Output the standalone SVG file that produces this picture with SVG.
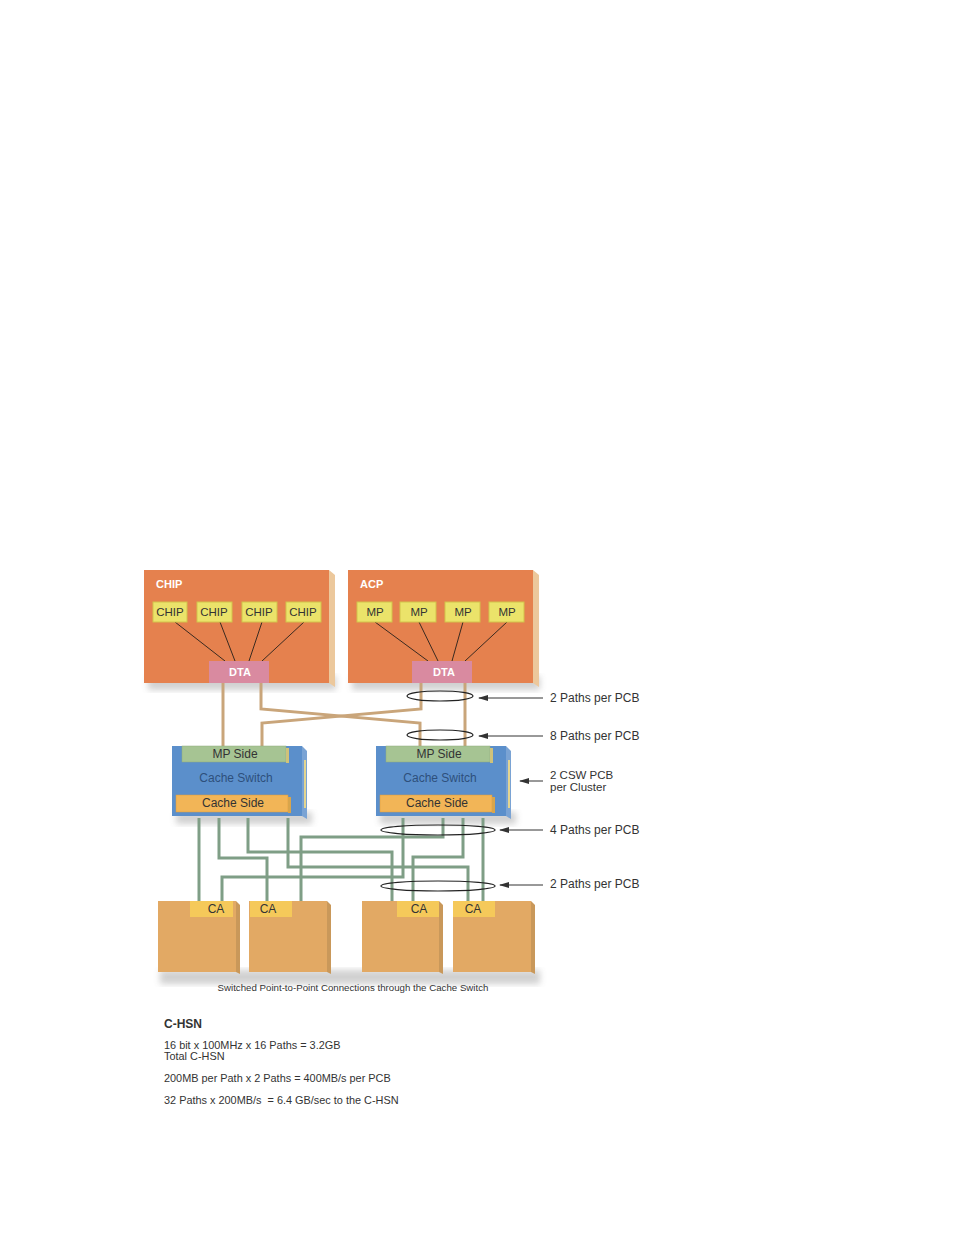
<svg xmlns="http://www.w3.org/2000/svg" width="954" height="1235" viewBox="0 0 954 1235">
<defs>
<style>
text{font-family:"Liberation Sans",Arial,sans-serif;fill:#333}
.title{font-size:11px;font-weight:bold;fill:#fff}
.chip{fill:#ebe36a;stroke:#d2c34a;stroke-width:1}
.ct{font-size:11.5px;text-anchor:middle}
.st{font-size:12px;text-anchor:middle}
.dta{fill:#d98aa0}
.dt{font-size:11px;font-weight:bold;fill:#fff;text-anchor:middle}
.big{fill:#e5814e}
.edge{fill:#ecc89c}
.wire{stroke:#3a2a20;stroke-width:1;fill:none}
.tan{stroke:#c9a57a;stroke-width:3;fill:none}
.grn{stroke:#7f9e86;stroke-width:3;fill:none}
.sw{fill:#5b8fcb}
.swe{fill:#7aa3d4}
.mp{fill:#a6c493;stroke:#8fab7d;stroke-width:0.5}
.cs{fill:#f2b557;stroke:#d99a3c;stroke-width:0.5}
.ca{fill:#e2a964}
.cal{fill:#f5c95a}
.ell{fill:none;stroke:#222;stroke-width:1.2}
.arr{stroke:#333;stroke-width:1;fill:none;marker-end:url(#ah)}
.lbl{font-size:12px}
.lbl2{font-size:11.5px}
.small{font-size:10.9px}
.shadow{filter:url(#blur);fill:#999;opacity:0.45}
</style>
<marker id="ah" markerWidth="10" markerHeight="6" refX="9" refY="3" orient="auto" markerUnits="userSpaceOnUse">
<path d="M0,0 L10,3 L0,6 Z" fill="#333"/>
</marker>
<filter id="blur" x="-20%" y="-20%" width="140%" height="140%"><feGaussianBlur stdDeviation="3"/></filter>
</defs>

<rect x="0" y="0" width="954" height="1235" fill="#fff"/>

<!-- shadows -->
<rect class="shadow" x="148" y="676" width="188" height="14"/>
<rect class="shadow" x="352" y="676" width="188" height="14"/>
<rect class="shadow" x="176" y="812" width="136" height="12"/>
<rect class="shadow" x="380" y="812" width="136" height="12"/>
<rect class="shadow" x="160" y="970" width="380" height="14"/>

<!-- connectors -->
<g id="connectors">
<g id="tan-paths">
<path class="tan" d="M223,683 V746"/>
<path class="tan" d="M261,683 V709 L420,723 V746"/>
<path class="tan" d="M421,683 V709 L262,723 V746"/>
<path class="tan" d="M465,683 V746"/>
</g>
<g id="green-paths">
<path class="grn" d="M199,818 V901"/>
<path class="grn" d="M219,818 V858 H267 V901"/>
<path class="grn" d="M248,818 V852 H392 V901"/>
<path class="grn" d="M288,818 V867 H468 V901"/>
<path class="grn" d="M403,818 V877 H222 V901"/>
<path class="grn" d="M443,818 V837 H301 V901"/>
<path class="grn" d="M463,818 V857 H413 V901"/>
<path class="grn" d="M483,818 V901"/>
</g>
<g id="bundles">
<ellipse class="ell" cx="440" cy="696" rx="33" ry="5"/>
<ellipse class="ell" cx="440" cy="735" rx="33" ry="5"/>
<ellipse class="ell" cx="438" cy="830" rx="57" ry="5"/>
<ellipse class="ell" cx="438" cy="886" rx="57" ry="5"/>
</g>
<g id="arrows">
<line class="arr" x1="543" y1="698" x2="479" y2="698"/>
<line class="arr" x1="543" y1="736" x2="479" y2="736"/>
<line class="arr" x1="543" y1="781" x2="520" y2="781"/>
<line class="arr" x1="543" y1="830" x2="500" y2="830"/>
<line class="arr" x1="543" y1="885" x2="500" y2="885"/>
</g>
</g>

<!-- CHIP box -->
<g id="chip-group">
<polygon class="edge" points="329,570 335,575 335,687 329,683"/>
<rect class="big" x="144" y="570" width="185" height="113"/>
<text class="title" x="156" y="588">CHIP</text>
<g id="chip-wires">
<line class="wire" x1="175" y1="622" x2="225" y2="661"/>
<line class="wire" x1="220" y1="622" x2="235" y2="661"/>
<line class="wire" x1="262" y1="622" x2="249" y2="661"/>
<line class="wire" x1="304" y1="622" x2="262" y2="661"/>
</g>
<g id="chip1"><rect class="chip" x="153" y="602" width="34" height="20"/><text class="ct" x="170" y="616">CHIP</text></g>
<g id="chip2"><rect class="chip" x="197" y="602" width="35" height="20"/><text class="ct" x="214" y="616">CHIP</text></g>
<g id="chip3"><rect class="chip" x="242" y="602" width="35" height="20"/><text class="ct" x="259" y="616">CHIP</text></g>
<g id="chip4"><rect class="chip" x="286" y="602" width="35" height="20"/><text class="ct" x="303" y="616">CHIP</text></g>
<g id="dta1"><rect class="dta" x="209" y="661" width="60" height="22"/><text class="dt" x="240" y="676">DTA</text></g>
</g>

<!-- ACP box -->
<g id="acp-group">
<polygon class="edge" points="533,570 539,575 539,687 533,683"/>
<rect class="big" x="348" y="570" width="185" height="113"/>
<text class="title" x="360" y="588">ACP</text>
<g id="mp-wires">
<line class="wire" x1="375" y1="622" x2="428" y2="661"/>
<line class="wire" x1="419" y1="622" x2="438" y2="661"/>
<line class="wire" x1="463" y1="622" x2="452" y2="661"/>
<line class="wire" x1="507" y1="622" x2="465" y2="661"/>
</g>
<g id="mp1"><rect class="chip" x="357" y="602" width="35" height="20"/><text class="ct" x="375" y="616">MP</text></g>
<g id="mp2"><rect class="chip" x="400" y="602" width="36" height="20"/><text class="ct" x="419" y="616">MP</text></g>
<g id="mp3"><rect class="chip" x="445" y="602" width="35" height="20"/><text class="ct" x="463" y="616">MP</text></g>
<g id="mp4"><rect class="chip" x="489" y="602" width="35" height="20"/><text class="ct" x="507" y="616">MP</text></g>
<g id="dta2"><rect class="dta" x="412" y="661" width="60" height="22"/><text class="dt" x="444" y="676">DTA</text></g>
</g>

<!-- Cache switch left -->
<g id="csw-left">
<polygon class="swe" points="302,746 307,751 307,819 302,816"/>
<rect x="304" y="760" width="2" height="48" fill="#e3d590"/>
<rect class="sw" x="172" y="746" width="130" height="70"/>
<rect class="mp" x="182" y="746" width="104" height="16"/>
<rect x="286" y="748" width="3" height="15" fill="#cfc27a"/>
<text class="st" x="235" y="758">MP Side</text>
<text class="st" x="236" y="782" style="fill:#2e4f7c">Cache Switch</text>
<rect class="cs" x="176" y="795" width="112" height="17"/>
<rect x="288" y="797" width="3" height="16" fill="#d8a54c"/>
<text class="st" x="233" y="807">Cache Side</text>
</g>

<!-- Cache switch right -->
<g id="csw-right">
<polygon class="swe" points="506,746 511,751 511,819 506,816"/>
<rect x="508" y="760" width="2" height="48" fill="#e3d590"/>
<rect class="sw" x="376" y="746" width="130" height="70"/>
<rect class="mp" x="386" y="746" width="104" height="16"/>
<rect x="490" y="748" width="3" height="15" fill="#cfc27a"/>
<text class="st" x="439" y="758">MP Side</text>
<text class="st" x="440" y="782" style="fill:#2e4f7c">Cache Switch</text>
<rect class="cs" x="380" y="795" width="112" height="17"/>
<rect x="492" y="797" width="3" height="16" fill="#d8a54c"/>
<text class="st" x="437" y="807">Cache Side</text>
</g>

<!-- CA boxes -->
<g id="ca1">
<polygon points="236,901 240,905 240,974 236,972" fill="#c9985a"/>
<rect class="ca" x="158" y="901" width="78" height="71"/>
<rect class="cal" x="190" y="901" width="43" height="16"/>
<text class="st" x="216" y="913">CA</text>
</g>
<g id="ca2">
<polygon points="327,901 331,905 331,974 327,972" fill="#c9985a"/>
<rect class="ca" x="249" y="901" width="78" height="71"/>
<rect class="cal" x="250" y="901" width="42" height="16"/>
<text class="st" x="268" y="913">CA</text>
</g>
<g id="ca3">
<polygon points="439,901 443,905 443,974 439,972" fill="#c9985a"/>
<rect class="ca" x="362" y="901" width="77" height="71"/>
<rect class="cal" x="397" y="901" width="42" height="16"/>
<text class="st" x="419" y="913">CA</text>
</g>
<g id="ca4">
<polygon points="531,901 535,905 535,974 531,972" fill="#c9985a"/>
<rect class="ca" x="453" y="901" width="78" height="71"/>
<rect class="cal" x="453" y="901" width="42" height="16"/>
<text class="st" x="473" y="913">CA</text>
</g>

<!-- labels -->
<g id="labels">
<text class="lbl" x="550" y="702">2 Paths per PCB</text>
<text class="lbl" x="550" y="740">8 Paths per PCB</text>
<text class="lbl2" x="550" y="779">2 CSW PCB</text>
<text class="lbl2" x="550" y="791">per Cluster</text>
<text class="lbl" x="550" y="834">4 Paths per PCB</text>
<text class="lbl" x="550" y="888">2 Paths per PCB</text>
<text x="353" y="991" text-anchor="middle" style="font-size:9.7px">Switched Point-to-Point Connections through the Cache Switch</text>
</g>

<g id="notes">
<text x="164" y="1028" style="font-size:12px;font-weight:bold">C-HSN</text>
<text class="small" x="164" y="1049">16 bit x 100MHz x 16 Paths = 3.2GB</text>
<text class="small" x="164" y="1060">Total C-HSN</text>
<text class="small" x="164" y="1082">200MB per Path x 2 Paths = 400MB/s per PCB</text>
<text class="small" x="164" y="1104" xml:space="preserve">32 Paths x 200MB/s  = 6.4 GB/sec to the C-HSN</text>
</g>
</svg>
